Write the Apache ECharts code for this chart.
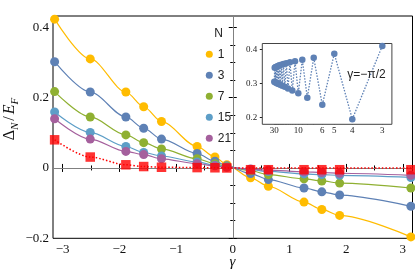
<!DOCTYPE html>
<html><head><meta charset="utf-8">
<script src="https://cdn.jsdelivr.net/npm/echarts@6/dist/echarts.min.js"></script>
<style>html,body{margin:0;padding:0;background:#fff}#c{width:415px;height:273px}</style>
</head><body><div id="c"></div>
<script>
const PI = Math.PI;
// gamma positions of the computed points
const gammas = [-PI, -4*PI/5, -3*PI/5, -PI/2, -2*PI/5, -PI/5, -PI/10, -PI/30, PI/10, PI/5, 2*PI/5, PI/2, 3*PI/5, PI];
const seriesNames = ['1', '3', '7', '15', '21'];
const valsN1  = [0.423, 0.310, 0.216, 0.174, 0.132, 0.061, 0.031, 0.009, -0.028, -0.052, -0.097, -0.118, -0.135, -0.196];
const valsN3  = [0.302, 0.216, 0.145, 0.113, 0.082, 0.041, 0.019, 0.006, -0.016, -0.033, -0.057, -0.068, -0.077, -0.109];
const valsN7  = [0.217, 0.145, 0.094, 0.072, 0.054, 0.026, 0.012, 0.004, -0.008, -0.019, -0.031, -0.037, -0.043, -0.057];
const valsN15 = [0.159, 0.101, 0.061, 0.044, 0.034, 0.017, 0.008, 0.003, -0.005, -0.010, -0.017, -0.019, -0.021, -0.027];
const valsN21 = [0.140, 0.082, 0.047, 0.038, 0.026, 0.012, 0.006, 0.002, -0.003, -0.006, -0.011, -0.013, -0.015, -0.021];
const redVals = [0.080, 0.031, 0.009, 0.004, 0.002, 0.001, 0.0005, 0.0, -0.005, -0.005, -0.005, -0.005, -0.005, -0.005];
const redFit  = [0.080, 0.031, 0.009, 0.004, 0.002, 0.001, 0.0005, 0.0, 0.0, 0.0, 0.0, 0.0, 0.0, 0.0];
const xTickLabels = [-3, -2, -1, 0, 1, 2, 3];
const xMinorTicks = [-2.5, -1.5, -0.5, 0.5, 1.5, 2.5];
const yTickLabels = [-0.2, 0, 0.2, 0.4];
const yMinorTicks = [-0.15, -0.1, -0.05, 0.05, 0.1, 0.15, 0.25, 0.3, 0.35];
// inset: gamma = -pi/2, versus 1/N
const insetN = [3,4,5,6,7,8,9,10,11,12,13,14,15,16,17,18,19,20,21,22,23,24,25,26,27,28,29,30];
const insetVals = [0.410, 0.195, 0.387, 0.237, 0.375, 0.258, 0.369, 0.271, 0.365, 0.279, 0.362, 0.285, 0.359, 0.290,
                   0.357, 0.293, 0.355, 0.296, 0.353, 0.298, 0.351, 0.300, 0.349, 0.302, 0.348, 0.303, 0.346, 0.305];
const insetLabelN = [30, 10, 6, 5, 4, 3];
const insetYTicks = [0.2, 0.3, 0.4];

const colors = ['#FFBC00', '#5E81B5', '#8FB032', '#5D9EC7', '#A5609D'];
const allVals = [valsN1, valsN3, valsN7, valsN15, valsN21];
const pairs = v => gammas.map((g, i) => [g, v[i]]);
const fmtNum = v => (v < 0 ? '\u2212' + Math.abs(v) : String(v));

const serif = 'Liberation Serif';
const sans = 'Liberation Sans';
const XR = [-3.17, 3.17], YR = [-0.2, 0.432];

function mainX(pos, ticks, len, label) {
  return { type: 'value', gridIndex: 0, position: pos, min: XR[0], max: XR[1],
    axisLine: { show: false }, splitLine: { show: false },
    axisTick: { show: true, inside: true, length: len, customValues: ticks, lineStyle: { color: '#000', width: 1 } },
    axisLabel: label ? { show: true, customValues: ticks, formatter: fmtNum, fontFamily: serif, fontSize: 13, color: '#111', margin: 5 } : { show: false } };
}
function mainY(pos, ticks, len, label) {
  return { type: 'value', gridIndex: 0, position: pos, min: YR[0], max: YR[1],
    axisLine: { show: false }, splitLine: { show: false },
    axisTick: { show: true, inside: true, length: len, customValues: ticks, lineStyle: { color: '#000', width: 1 } },
    axisLabel: label ? { show: true, customValues: ticks, formatter: fmtNum, fontFamily: serif, fontSize: 13, color: '#111', margin: 4 } : { show: false } };
}

const insetTickVals = insetN.map(n => 1 / n);
const insetLabelVals = insetLabelN.map(n => 1 / n);

const series = allVals.map((v, i) => ({
  name: seriesNames[i], type: 'line', xAxisIndex: 0, yAxisIndex: 0,
  data: pairs(v), smooth: 0.3, smoothMonotone: 'x',
  symbol: 'circle', symbolSize: 9, showSymbol: true,
  itemStyle: { color: colors[i] }, lineStyle: { color: colors[i], width: 1.2 },
  z: 3 + i
}));
series[0].markLine = {
  silent: true, symbol: ['none', 'none'], label: { show: false }, z: 1,
  lineStyle: { color: '#808080', width: 1, type: 'solid' },
  data: [{ yAxis: 0 }, { xAxis: 0 }]
};
series.push({
  name: 'fit', type: 'line', xAxisIndex: 0, yAxisIndex: 0, data: pairs(redFit),
  smooth: 0.3, smoothMonotone: 'x', showSymbol: false, symbol: 'none',
  lineStyle: { color: '#FF0000', width: 1.5, type: [1.5, 2] }, z: 9
});
series.push({
  name: 'red', type: 'scatter', xAxisIndex: 0, yAxisIndex: 0, data: pairs(redVals),
  symbol: 'rect', symbolSize: 9.5, itemStyle: { color: '#FF0000' }, z: 10
});
series.push({
  name: 'inset', type: 'line', xAxisIndex: 4, yAxisIndex: 4,
  data: insetN.map((n, i) => [1 / n, insetVals[i]]),
  symbol: 'circle', symbolSize: 6.5, showSymbol: true,
  itemStyle: { color: '#5E81B5' }, lineStyle: { color: '#5E81B5', width: 1.3, type: [1.5, 1.5] }, z: 20
});

const option = {
  animation: false,
  backgroundColor: '#fff',
  grid: [
    { left: 53, top: 16, right: 2.5, bottom: 34.7, show: true, borderColor: '#000', borderWidth: 1, backgroundColor: 'transparent', outerBoundsMode: 'none' },
    { left: 262.3, top: 43.5, width: 129.6, height: 80.8, show: true, borderColor: '#444', borderWidth: 1, backgroundColor: '#fff', outerBoundsMode: 'none', z: 5 }
  ],
  legend: {
    orient: 'vertical', left: 200.8, top: 42.3, itemWidth: 7, itemHeight: 7, itemGap: 7,
    icon: 'circle', data: seriesNames,
    textStyle: { fontFamily: sans, fontSize: 12, color: '#222', lineHeight: 14 }
  },
  xAxis: [
    mainX('bottom', xTickLabels, 4, true),
    mainX('bottom', xMinorTicks, 2.5, false),
    mainX('top', xTickLabels, 4, false),
    mainX('top', xMinorTicks, 2.5, false),
    { type: 'value', gridIndex: 1, position: 'bottom', min: 0, max: 0.36,
      axisLine: { show: false }, splitLine: { show: false },
      axisTick: { show: true, inside: true, length: 2.5, customValues: insetTickVals, lineStyle: { color: '#222' } },
      axisLabel: { show: true, customValues: insetLabelVals, formatter: v => String(Math.round(1 / v)), fontFamily: serif, fontSize: 9, color: '#222', margin: 2 } },
    { type: 'value', gridIndex: 1, position: 'top', min: 0, max: 0.36,
      axisLine: { show: false }, splitLine: { show: false },
      axisTick: { show: true, inside: true, length: 2.5, customValues: insetTickVals, lineStyle: { color: '#222' } },
      axisLabel: { show: false } }
  ],
  yAxis: [
    mainY('left', yTickLabels, 4, true),
    mainY('left', yMinorTicks, 2.5, false),
    mainY('right', yTickLabels, 4, false),
    mainY('right', yMinorTicks, 2.5, false),
    { type: 'value', gridIndex: 1, position: 'left', min: 0.18, max: 0.417,
      axisLine: { show: false }, splitLine: { show: false },
      axisTick: { show: true, inside: true, length: 2.5, customValues: insetYTicks, lineStyle: { color: '#222' } },
      axisLabel: { show: true, customValues: insetYTicks, formatter: v => v.toFixed(1), fontFamily: serif, fontSize: 9, color: '#222', margin: 5 } },
    { type: 'value', gridIndex: 1, position: 'right', min: 0.18, max: 0.417,
      axisLine: { show: false }, splitLine: { show: false },
      axisTick: { show: true, inside: true, length: 2.5, customValues: insetYTicks, lineStyle: { color: '#222' } },
      axisLabel: { show: false } }
  ],
  graphic: [
    { type: 'text', x: 218.5, y: 33.5, z: 50, style: { text: 'N', font: '12px "Liberation Sans"', fill: '#222', align: 'center', verticalAlign: 'middle' } },
    { type: 'text', x: 366.5, y: 75, z: 50, style: { text: '\u03B3=\u2212\u03C0/2', font: '12px "Liberation Sans"', fill: '#222', align: 'center', verticalAlign: 'middle' } },
    { type: 'text', x: 232.5, y: 262, z: 50, style: { text: '\u03B3', font: 'italic 15px "Liberation Serif"', fill: '#111', align: 'center', verticalAlign: 'middle' } },
    { type: 'text', x: 10, y: 118, rotation: Math.PI / 2, z: 50,
      style: {
        text: '{d|\u0394}{s|N}{d|/}{i|E}{s|F}', align: 'center', verticalAlign: 'middle',
        rich: {
          d: { fontFamily: serif, fontSize: 16, lineHeight: 22, fill: '#111', verticalAlign: 'middle' },
          i: { fontFamily: serif, fontStyle: 'italic', fontSize: 16, lineHeight: 22, fill: '#111', verticalAlign: 'middle', padding: [0, 0, 0, 2] },
          s: { fontFamily: serif, fontStyle: 'italic', fontSize: 11, lineHeight: 11, fill: '#111', verticalAlign: 'bottom', padding: [0, 2, 0, 0] }
        }
      } }
  ],
  series: series
};
const chart = echarts.init(document.getElementById('c'), null, { renderer: 'canvas' });
chart.setOption(option);
</script>
</body></html>
